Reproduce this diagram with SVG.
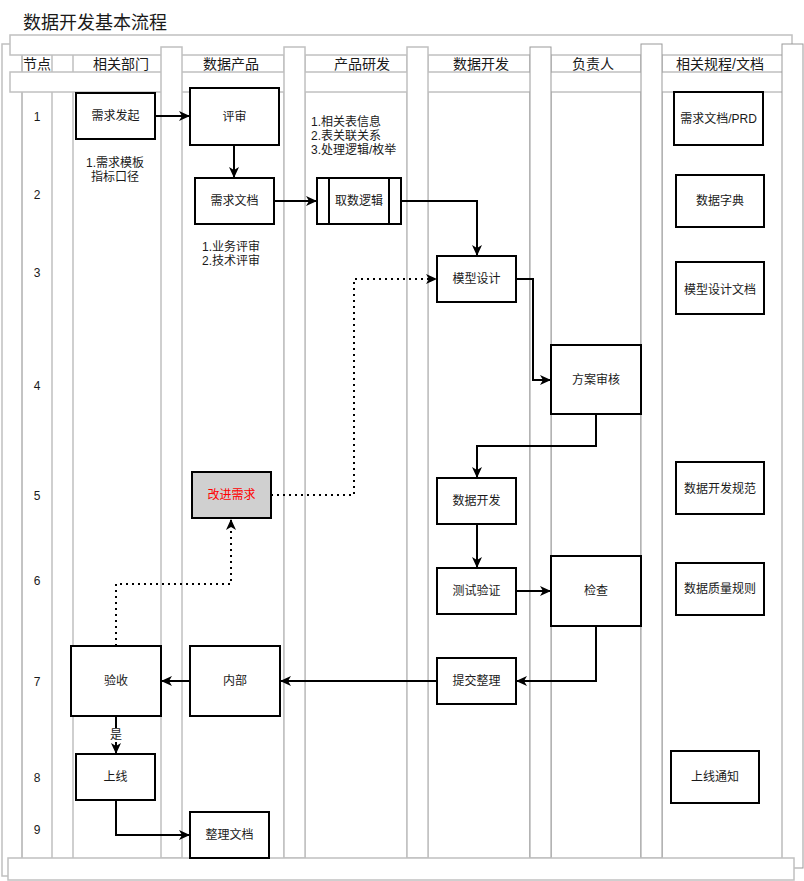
<svg xmlns="http://www.w3.org/2000/svg" width="804" height="881" viewBox="0 0 804 881">
<defs>
<style>
text{font-family:"Liberation Sans","Noto Sans CJK SC",sans-serif;font-size:12px;fill:#1a1a1a;}
.c{text-anchor:middle;dominant-baseline:central;}
.l{dominant-baseline:central;}
.h{font-size:14px;fill:#1a1a1a;}
.title{font-size:18px;fill:#1a1a1a;}
.g{fill:none;stroke:#c0c0c0;stroke-width:1.5;}
.gd{fill:none;stroke:#999;stroke-width:1;}
.gw{fill:#fff;stroke:#c0c0c0;stroke-width:1.5;}
.gwd{fill:#fff;stroke:#999;stroke-width:1;}
.n{fill:#fff;stroke:#000;stroke-width:2;}
.e{fill:none;stroke:#000;stroke-width:2;}
.d{fill:none;stroke:#000;stroke-width:2;stroke-dasharray:2 4;}
</style>
<marker id="arr" viewBox="0 0 11 10" refX="10" refY="5" markerWidth="11" markerHeight="10" markerUnits="userSpaceOnUse" orient="auto">
<path d="M0,0 L11,5 L0,10 L3,5 z" fill="#000"/>
</marker>
</defs>
<rect width="804" height="881" fill="#fff"/>
<text class="title" x="23" y="29">数据开发基本流程</text>

<g id="frame">
<rect class="g" x="2" y="44" width="20" height="832"/>
<path class="g" d="M22,55 V858 M52,55 V858 M73,55 V858 M284,55 V858 M305,55 V858 M407,55 V858"/>
<path class="gd" d="M428,55 V858 M530,55 V858 M551,55 V858 M641,55 V858 M662,55 V858"/>
<rect class="gw" x="10" y="35" width="782" height="20"/>
<rect class="gw" x="10" y="72" width="782" height="20"/>
<rect class="gw" x="161" y="47" width="21" height="811"/>
<rect class="gw" x="284" y="47" width="21" height="811"/>
<rect class="gw" x="407" y="47" width="21" height="811"/>
<rect class="gwd" x="530" y="47" width="21" height="811"/>
<rect class="gwd" x="641" y="44" width="21" height="814"/>
<rect class="gwd" x="782" y="44" width="21" height="824"/>
<rect class="gw" x="8" y="858" width="786" height="22"/>
</g>

<g id="headers">
<text class="c h" x="37" y="64">节点</text>
<text class="c h" x="121" y="64">相关部门</text>
<text class="c h" x="231" y="64">数据产品</text>
<text class="c h" x="362" y="64">产品研发</text>
<text class="c h" x="481" y="64">数据开发</text>
<text class="c h" x="593" y="64">负责人</text>
<text class="c h" x="720" y="64">相关规程/文档</text>
</g>

<g id="rows">
<text class="c" x="37" y="117">1</text>
<text class="c" x="37" y="195">2</text>
<text class="c" x="37" y="273">3</text>
<text class="c" x="37" y="386">4</text>
<text class="c" x="37" y="496">5</text>
<text class="c" x="37" y="581">6</text>
<text class="c" x="37" y="682">7</text>
<text class="c" x="37" y="778">8</text>
<text class="c" x="37" y="830">9</text>
</g>

<g id="notes">
<text class="c" x="115" y="163">1.需求模板</text>
<text class="c" x="115" y="177">指标口径</text>
<text class="c" x="231" y="247">1.业务评审</text>
<text class="c" x="231" y="261">2.技术评审</text>
<text class="l" x="311" y="122">1.相关表信息</text>
<text class="l" x="311" y="136">2.表关联关系</text>
<text class="l" x="311" y="150">3.处理逻辑/枚举</text>
</g>

<g id="connectors">
<path class="e" d="M155,116 H189" marker-end="url(#arr)"/>
<path class="e" d="M234,145 V177" marker-end="url(#arr)"/>
<path class="e" d="M274,201 H316" marker-end="url(#arr)"/>
<path class="e" d="M401,201 H477 V255" marker-end="url(#arr)"/>
<path class="d" d="M271,495 H354 V279 H436" marker-end="url(#arr)"/>
<path class="e" d="M516,279 H533 V380 H550" marker-end="url(#arr)"/>
<path class="e" d="M596,414 V446 H477 V477" marker-end="url(#arr)"/>
<path class="e" d="M477,524 V567" marker-end="url(#arr)"/>
<path class="e" d="M516,591 H550" marker-end="url(#arr)"/>
<path class="e" d="M596,626 V681 H517" marker-end="url(#arr)"/>
<path class="e" d="M437,681 H281" marker-end="url(#arr)"/>
<path class="e" d="M190,681 H162" marker-end="url(#arr)"/>
<path class="d" d="M116,646 V584 H231 V520" marker-end="url(#arr)"/>
<path class="e" d="M116,716 V753" marker-end="url(#arr)"/>
<rect x="109" y="728" width="14" height="14" fill="#fff"/>
<text class="c" x="116" y="735">是</text>
<path class="e" d="M116,800 V835 H189" marker-end="url(#arr)"/>
</g>

<g id="n-xqfq"><rect class="n" x="76" y="93" width="79" height="46"/><text class="c" x="115.5" y="116">需求发起</text></g>
<g id="n-ps"><rect class="n" x="190" y="88" width="89" height="57"/><text class="c" x="234.5" y="117">评审</text></g>
<g id="n-xqwd"><rect class="n" x="195" y="178" width="79" height="46"/><text class="c" x="234.5" y="201">需求文档</text></g>
<g id="n-qsl"><rect class="n" x="317" y="178" width="84" height="46"/><path class="e" d="M329,178 V224 M389,178 V224"/><text class="c" x="359" y="201">取数逻辑</text></g>
<g id="n-mxsj"><rect class="n" x="437" y="256" width="79" height="46"/><text class="c" x="476.5" y="279">模型设计</text></g>
<g id="n-fash"><rect class="n" x="551" y="345" width="90" height="69"/><text class="c" x="596" y="380">方案审核</text></g>
<g id="n-gjxq"><rect x="192" y="472" width="79" height="46" fill="#d0d0d0" stroke="#000" stroke-width="2"/><text class="c" x="231.5" y="495" style="fill:#ff0000">改进需求</text></g>
<g id="n-sjkf"><rect class="n" x="437" y="478" width="79" height="46"/><text class="c" x="476.5" y="501">数据开发</text></g>
<g id="n-csyz"><rect class="n" x="437" y="568" width="79" height="46"/><text class="c" x="476.5" y="591">测试验证</text></g>
<g id="n-jc"><rect class="n" x="551" y="556" width="90" height="70"/><text class="c" x="596" y="591">检查</text></g>
<g id="n-tjzl"><rect class="n" x="437" y="658" width="79" height="46"/><text class="c" x="476.5" y="681">提交整理</text></g>
<g id="n-nb"><rect class="n" x="190" y="646" width="90" height="70"/><text class="c" x="235" y="681">内部</text></g>
<g id="n-ys"><rect class="n" x="71" y="646" width="90" height="70"/><text class="c" x="116" y="681">验收</text></g>
<g id="n-sx"><rect class="n" x="76" y="754" width="79" height="46"/><text class="c" x="115.5" y="777">上线</text></g>
<g id="n-zlwd"><rect class="n" x="190" y="812" width="79" height="46"/><text class="c" x="229.5" y="835">整理文档</text></g>

<g id="n-prd"><rect class="n" x="674" y="92" width="89" height="53"/><text class="c" x="718.5" y="119">需求文档/PRD</text></g>
<g id="n-sjzd"><rect class="n" x="676" y="175" width="88" height="52"/><text class="c" x="720" y="201">数据字典</text></g>
<g id="n-mxwd"><rect class="n" x="676" y="262" width="88" height="52"/><text class="c" x="720" y="290">模型设计文档</text></g>
<g id="n-kfgf"><rect class="n" x="676" y="462" width="88" height="52"/><text class="c" x="720" y="489">数据开发规范</text></g>
<g id="n-zlgz"><rect class="n" x="676" y="563" width="88" height="52"/><text class="c" x="720" y="589">数据质量规则</text></g>
<g id="n-sxtz"><rect class="n" x="671" y="751" width="88" height="52"/><text class="c" x="715" y="777">上线通知</text></g>
</svg>
